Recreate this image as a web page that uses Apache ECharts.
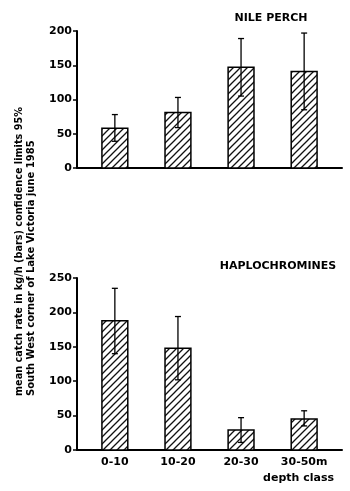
<!DOCTYPE html>
<html><head><meta charset="utf-8">
<script src="https://cdn.jsdelivr.net/npm/echarts@6/dist/echarts.min.js"></script>
<style>html,body{margin:0;padding:0;background:#fff}#c{width:350px;height:491px}</style>
</head><body><div id="c"></div>
<script>
// ---- data ----
const categories = ['0-10', '10-20', '20-30', '30-50m'];
const yTicksTop = [0, 50, 100, 150, 200];
const yTicksBottom = [0, 50, 100, 150, 200, 250];
const nilePerchMean = [58, 81, 147, 141];
const nilePerchLow  = [39, 59, 105, 85];
const nilePerchHigh = [78, 103, 189, 197];
const haploMean = [188, 148, 29, 45];
const haploLow  = [140, 102, 11, 35];
const haploHigh = [235, 194, 47, 57];
const topTitle = 'NILE PERCH';
const bottomTitle = 'HAPLOCHROMINES';
const xName = 'depth class';
const yLabel1 = 'mean catch rate in kg/h (bars) confidence limits 95%';
const yLabel2 = 'South West corner of Lake Victoria june 1985';

// ---- hatch pattern ----
function makeHatch() {
  const s = 7, c = document.createElement('canvas');
  c.width = s; c.height = s;
  const ctx = c.getContext('2d');
  ctx.fillStyle = '#fff'; ctx.fillRect(0, 0, s, s);
  ctx.strokeStyle = '#111'; ctx.lineWidth = 1.3;
  ctx.beginPath();
  ctx.moveTo(0, s); ctx.lineTo(s, 0);
  ctx.moveTo(-1, 1); ctx.lineTo(1, -1);
  ctx.moveTo(s - 1, s + 1); ctx.lineTo(s + 1, s - 1);
  ctx.stroke();
  return c;
}
const hatch = { image: makeHatch(), repeat: 'repeat' };

const FONT = 'DejaVu Sans';
const positions = categories.map((c, i) => i + 1);

function barData(means) { return means.map((v, i) => [positions[i], v]); }
function errData(lo, hi) { return lo.map((v, i) => [positions[i], v, hi[i]]); }

function renderBar(params, api) {
  const x = api.value(0), v = api.value(1);
  const top = api.coord([x, v]);
  const base = api.coord([x, 0]);
  const w = api.size([0.41, 0])[0];
  return {
    type: 'rect',
    shape: { x: top[0] - w / 2, y: top[1], width: w, height: base[1] - top[1] },
    style: { fill: hatch, stroke: '#000', lineWidth: 1.5 }
  };
}
function renderErr(params, api) {
  const x = api.value(0);
  const lo = api.coord([x, api.value(1)]);
  const hi = api.coord([x, api.value(2)]);
  const cw = 3;
  const st = { stroke: '#000', lineWidth: 1.3 };
  return {
    type: 'group',
    children: [
      { type: 'line', shape: { x1: lo[0], y1: lo[1], x2: hi[0], y2: hi[1] }, style: st },
      { type: 'line', shape: { x1: hi[0] - cw, y1: hi[1], x2: hi[0] + cw, y2: hi[1] }, style: st },
      { type: 'line', shape: { x1: lo[0] - cw, y1: lo[1], x2: lo[0] + cw, y2: lo[1] }, style: st }
    ]
  };
}

function xAxisCfg(gridIndex, showLabels) {
  return {
    type: 'value', gridIndex, min: 0.4, max: 4.6,
    axisLine: { show: true, lineStyle: { color: '#000', width: 2 } },
    axisTick: { show: false },
    splitLine: { show: false },
    axisLabel: {
      show: showLabels, customValues: positions, margin: 7,
      color: '#000', fontFamily: FONT, fontWeight: 'bold', fontSize: 11,
      formatter: v => categories[Math.round(v) - 1] || ''
    }
  };
}
function yAxisCfg(gridIndex, ticks) {
  return {
    type: 'value', gridIndex, min: ticks[0], max: ticks[ticks.length - 1], interval: ticks[1] - ticks[0],
    axisLine: { show: true, lineStyle: { color: '#000', width: 2 } },
    axisTick: { show: true, length: 4, lineStyle: { color: '#000', width: 1.5 } },
    splitLine: { show: false },
    axisLabel: { margin: 5, color: '#000', fontFamily: FONT, fontWeight: 'bold', fontSize: 11 }
  };
}

const chart = echarts.init(document.getElementById('c'), null, { renderer: 'canvas' });
chart.setOption({
  backgroundColor: '#fff',
  animation: false,
  grid: [
    { left: 77, right: 8, top: 31, height: 137 },
    { left: 77, right: 8, top: 278, bottom: 41 }
  ],
  xAxis: [xAxisCfg(0, false), xAxisCfg(1, true)],
  yAxis: [yAxisCfg(0, yTicksTop), yAxisCfg(1, yTicksBottom)],
  series: [
    { type: 'custom', xAxisIndex: 0, yAxisIndex: 0, renderItem: renderBar, data: barData(nilePerchMean) },
    { type: 'custom', xAxisIndex: 0, yAxisIndex: 0, renderItem: renderErr, data: errData(nilePerchLow, nilePerchHigh), z: 3 },
    { type: 'custom', xAxisIndex: 1, yAxisIndex: 1, renderItem: renderBar, data: barData(haploMean) },
    { type: 'custom', xAxisIndex: 1, yAxisIndex: 1, renderItem: renderErr, data: errData(haploLow, haploHigh), z: 3 }
  ],
  graphic: [
    { type: 'text', x: 271, y: 18, style: { text: topTitle, align: 'center', verticalAlign: 'middle', font: 'bold 11px "DejaVu Sans"', fill: '#000' } },
    { type: 'text', x: 278, y: 266, style: { text: bottomTitle, align: 'center', verticalAlign: 'middle', font: 'bold 11px "DejaVu Sans"', fill: '#000' } },
    { type: 'text', x: 334, y: 478, style: { text: xName, align: 'right', verticalAlign: 'middle', font: 'bold 11px "DejaVu Sans"', fill: '#000' } },
    { type: 'text', x: 19, y: 396, rotation: Math.PI / 2, style: { text: yLabel1, align: 'left', verticalAlign: 'middle', font: 'bold 9.7px "DejaVu Sans"', fill: '#000' } },
    { type: 'text', x: 31, y: 396, rotation: Math.PI / 2, style: { text: yLabel2, align: 'left', verticalAlign: 'middle', font: 'bold 10px "DejaVu Sans"', fill: '#000' } }
  ]
});
</script>
</body></html>
